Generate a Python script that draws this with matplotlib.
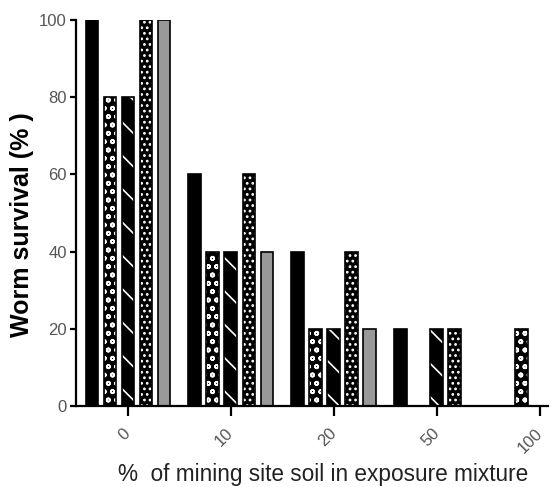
import matplotlib as mpl
import matplotlib.pyplot as plt
import numpy as np

mpl.rcParams['font.family'] = ['Liberation Sans', 'DejaVu Sans']
mpl.rcParams['hatch.linewidth'] = 1.2

# data
doses = ['0', '10', '20', '50', '100']
series = [
    [100, 60, 40, 20, 0],
    [80, 40, 20, 0, 20],
    [80, 40, 20, 20, 0],
    [100, 60, 40, 20, 0],
    [100, 40, 20, 0, 0],
]

# face colour, hatch, hatch colour
styles = [
    ('black', None, 'black'),
    ('black', 'oo', 'white'),
    ('black', '\\', 'white'),
    ('black', '...', 'white'),
    ('#999999', None, 'black'),
]


def main():
    fig = plt.figure(figsize=(5.51, 4.87), dpi=100)
    ax = fig.add_axes([76/551, 81/487, 472/551, 386/487])

    x = np.arange(len(doses))
    step = 0.175
    width = 0.125
    for i, vals in enumerate(series):
        fc, hatch, hc = styles[i]
        pos = x + (i - 2) * step
        ax.bar(pos, vals, width, color=fc, edgecolor=hc, hatch=hatch,
               linewidth=0, zorder=2)
        ax.bar(pos, vals, width, facecolor='none', edgecolor='black',
               linewidth=1.2, zorder=3)

    ax.set_xlim(-0.505, 4.08)
    ax.set_ylim(0, 100)
    ax.set_yticks([0, 20, 40, 60, 80, 100])
    ax.set_xticks(x)
    ax.set_xticklabels(doses, rotation=45, ha='right', va='center',
                       rotation_mode='anchor')

    for s in ['top', 'right']:
        ax.spines[s].set_visible(False)
    for s in ['left', 'bottom']:
        ax.spines[s].set_linewidth(1.6)
    ax.tick_params(axis='x', length=7, width=1.6, labelsize=12,
                   labelcolor='#555555', pad=11)
    ax.tick_params(axis='y', length=4.5, width=1.6, labelsize=12,
                   labelcolor='#555555', pad=2)

    ax.set_ylabel('Worm survival (% )', fontsize=18, fontweight='bold',
                  labelpad=4)
    ax.yaxis.label.set_y(0.47)
    ax.set_xlabel('%  of mining site soil in exposure mixture', fontsize=16.3,
                  color='#222222', labelpad=5)
    ax.xaxis.label.set_x(0.523)

    fig.savefig('out.png', dpi=100)


if __name__ == '__main__':
    main()
